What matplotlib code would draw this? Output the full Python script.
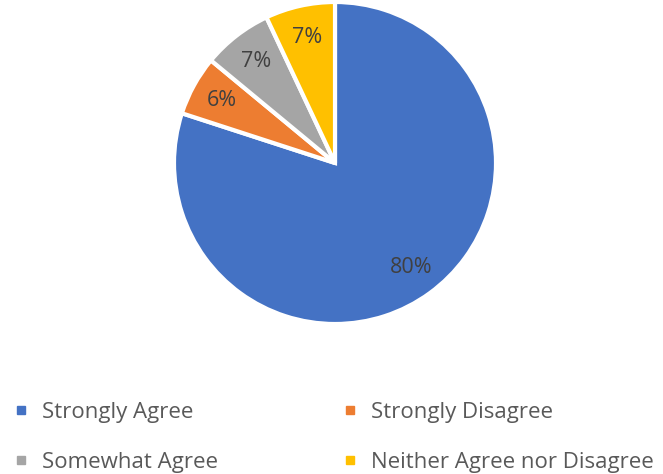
import matplotlib
matplotlib.use("Agg")
import matplotlib.pyplot as plt
from matplotlib.lines import Line2D

categories = ["Strongly Agree", "Strongly Disagree", "Somewhat Agree", "Neither Agree nor Disagree"]
values = [80, 6, 7, 7]
colors = ["#4472C4", "#ED7D31", "#A5A5A5", "#FFC000"]

plt.rcParams['font.family'] = ['Open Sans', 'DejaVu Sans']

fig = plt.figure(figsize=(6.63, 4.74), dpi=100)
# pie axes: center (335,163) px, radius ~161 px
r = 161
cx, cy = 335, 163
ax = fig.add_axes([(cx - r) / 663, 1 - (cy + r) / 474, 2 * r / 663, 2 * r / 474])
wedges, texts, autotexts = ax.pie(
    values, colors=colors, startangle=90, counterclock=False,
    autopct=lambda p: f"{p:.0f}%", pctdistance=0.8,
    wedgeprops=dict(edgecolor="white", linewidth=3),
    textprops=dict(color="#404040", fontsize=15.5),
)
ax.set_aspect("equal")
ax.set_xlim(-1.0, 1.0)
ax.set_ylim(-1.0, 1.0)

order = [0, 2, 1, 3]  # row-major layout in two columns
handles = [Line2D([0], [0], marker="s", linestyle="", markersize=6,
                  markerfacecolor=colors[i], markeredgecolor=colors[i]) for i in order]
labels = [categories[i] for i in order]
leg = fig.legend(handles, labels, ncol=2, loc="upper left",
                 bbox_to_anchor=(0.0085, 1 - 393 / 474), frameon=False,
                 fontsize=16, labelcolor="#595959", handlelength=0.6,
                 handletextpad=0.65, columnspacing=5.62, labelspacing=1.3,
                 borderaxespad=0)

fig.savefig("out.png", dpi=100)
